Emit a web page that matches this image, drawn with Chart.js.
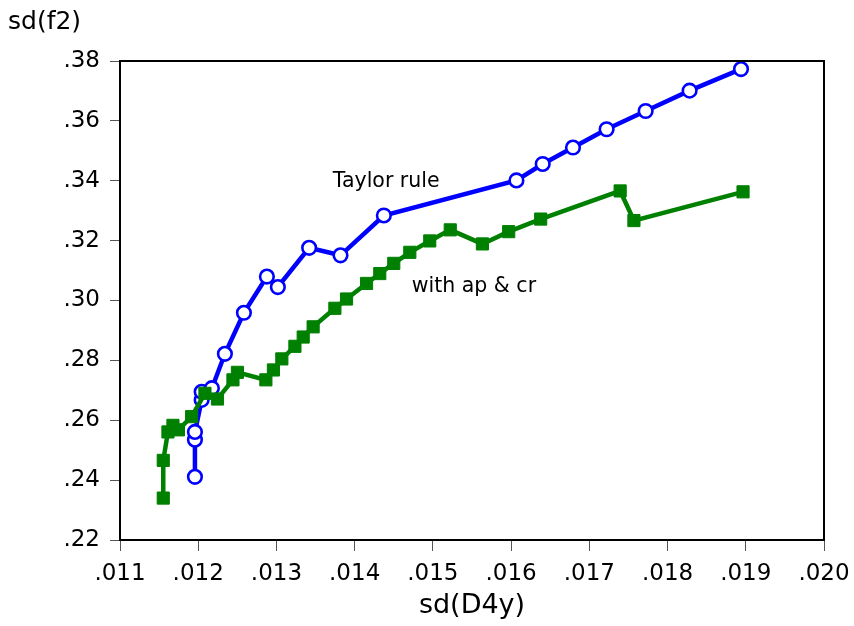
<!DOCTYPE html>
<html>
<head>
<meta charset="utf-8">
<script src="https://cdn.jsdelivr.net/npm/chart.js@4.4.1/dist/chart.umd.min.js"></script>
<style>
  html, body { margin: 0; padding: 0; background: #ffffff; }
  #wrap { width: 854px; height: 626px; }
</style>
</head>
<body>
<div id="wrap"><canvas id="c" width="854" height="626"></canvas></div>
<script>
// ---- data ----
const xTickLabels = ['.011', '.012', '.013', '.014', '.015', '.016', '.017', '.018', '.019', '.020'];
const yTickLabels = ['.22', '.24', '.26', '.28', '.30', '.32', '.34', '.36', '.38'];

const taylorX = [0.011958, 0.011958, 0.011958, 0.012044, 0.012044, 0.012175, 0.012341, 0.012584, 0.012878, 0.013018,
                 0.013418, 0.013819, 0.014373, 0.016068, 0.016404, 0.016791, 0.017221, 0.017720, 0.018282, 0.018939];
const taylorY = [0.2411, 0.2535, 0.2561, 0.2668, 0.2695, 0.2707, 0.2822, 0.2959, 0.3080, 0.3045,
                 0.3176, 0.3151, 0.3284, 0.3401, 0.3456, 0.3511, 0.3572, 0.3633, 0.3701, 0.3773];

const apcrX = [0.011553, 0.011553, 0.011613, 0.011677, 0.011747, 0.011916, 0.012086, 0.012246, 0.012444, 0.012501,
               0.012865, 0.012961, 0.013069, 0.013236, 0.013342, 0.013469, 0.013747, 0.013896, 0.014152, 0.014321,
               0.014500, 0.014705, 0.014960, 0.015222, 0.015633, 0.015969, 0.016378, 0.017394, 0.017570, 0.018965];
const apcrY = [0.2340, 0.2466, 0.2561, 0.2583, 0.2568, 0.2612, 0.2690, 0.2671, 0.2735, 0.2760,
               0.2735, 0.2768, 0.2805, 0.2847, 0.2878, 0.2912, 0.2974, 0.3005, 0.3057, 0.3090,
               0.3124, 0.3161, 0.3199, 0.3236, 0.3189, 0.3230, 0.3272, 0.3366, 0.3267, 0.3363];

const seriesNames = ['Taylor rule', 'with ap & cr'];
const axisTitles = { x: 'sd(D4y)', y: 'sd(f2)' };
// in-plot labels, anchored at data coordinates
const notes = [
  { text: 'Taylor rule', x: 0.013721, y: 0.3396 },
  { text: 'with ap & cr', x: 0.014730, y: 0.3045 }
];

// ---- build ----
const xTickVals = xTickLabels.map(Number);
const yTickVals = yTickLabels.map(Number);
const toPts = (xs, ys) => xs.map((x, i) => ({ x: x, y: ys[i] }));
const FONT = '"DejaVu Sans", "Liberation Sans", Arial, sans-serif';

const boxPlugin = {
  id: 'boxAndText',
  afterDatasetsDraw(chart) {
    const ctx = chart.ctx, a = chart.chartArea;
    const xs = chart.scales.x, ys = chart.scales.y;
    ctx.save();
    // frame
    ctx.strokeStyle = '#000000';
    ctx.lineWidth = 2;
    ctx.strokeRect(a.left, a.top, a.right - a.left, a.bottom - a.top);
    // notes
    ctx.fillStyle = '#000000';
    ctx.font = '20.5px ' + FONT;
    ctx.textAlign = 'left';
    ctx.textBaseline = 'middle';
    notes.forEach(n => ctx.fillText(n.text, xs.getPixelForValue(n.x), ys.getPixelForValue(n.y)));
    // axis titles
    ctx.font = '25px ' + FONT;
    ctx.textAlign = 'left';
    ctx.fillText(axisTitles.y, 8, 22);
    ctx.font = '27px ' + FONT;
    ctx.textAlign = 'center';
    ctx.fillText(axisTitles.x, (a.left + a.right) / 2, 606);
    ctx.restore();
  }
};

new Chart(document.getElementById('c'), {
  type: 'scatter',
  data: {
    datasets: [
      {
        label: seriesNames[0],
        data: toPts(taylorX, taylorY),
        showLine: true,
        borderColor: '#0000ff',
        borderWidth: 4.5,
        pointStyle: 'circle',
        pointRadius: 6.8,
        pointBorderWidth: 2.6,
        pointBackgroundColor: '#ffffff',
        pointBorderColor: '#0000ff',
        order: 1
      },
      {
        label: seriesNames[1],
        data: toPts(apcrX, apcrY),
        showLine: true,
        borderColor: '#008000',
        borderWidth: 4.5,
        pointStyle: 'rect',
        pointRadius: 8.6,
        pointBorderWidth: 1,
        pointBackgroundColor: '#008000',
        pointBorderColor: '#008000',
        order: 0
      }
    ]
  },
  options: {
    responsive: false,
    animation: false,
    devicePixelRatio: 1,
    layout: { padding: { left: 0, right: 30, top: 61, bottom: 0 } },
    plugins: { legend: { display: false }, tooltip: { enabled: false }, title: { display: false } },
    scales: {
      x: {
        type: 'linear',
        min: xTickVals[0],
        max: xTickVals[xTickVals.length - 1],
        afterBuildTicks: s => { s.ticks = xTickVals.map(v => ({ value: v })); },
        afterFit: s => { s.height = 86; s.paddingLeft = 0; s.paddingRight = 0; },
        ticks: {
          callback: (v, i) => xTickLabels[i],
          color: '#000000',
          font: { family: FONT, size: 23 },
          padding: 9,
          maxRotation: 0,
          autoSkip: false
        },
        grid: { drawOnChartArea: false, drawTicks: true, tickLength: 11, color: '#555555', lineWidth: 1 },
        border: { display: false }
      },
      y: {
        type: 'linear',
        min: yTickVals[0],
        max: yTickVals[yTickVals.length - 1],
        afterBuildTicks: s => { s.ticks = yTickVals.map(v => ({ value: v })); },
        afterFit: s => { s.width = 120; s.paddingTop = 0; s.paddingBottom = 0; },
        ticks: {
          callback: (v, i) => yTickLabels[i],
          color: '#000000',
          font: { family: FONT, size: 23 },
          padding: 10,
          autoSkip: false
        },
        grid: { drawOnChartArea: false, drawTicks: true, tickLength: 10, color: '#555555', lineWidth: 1 },
        border: { display: false }
      }
    }
  },
  plugins: [boxPlugin]
});
</script>
</body>
</html>
